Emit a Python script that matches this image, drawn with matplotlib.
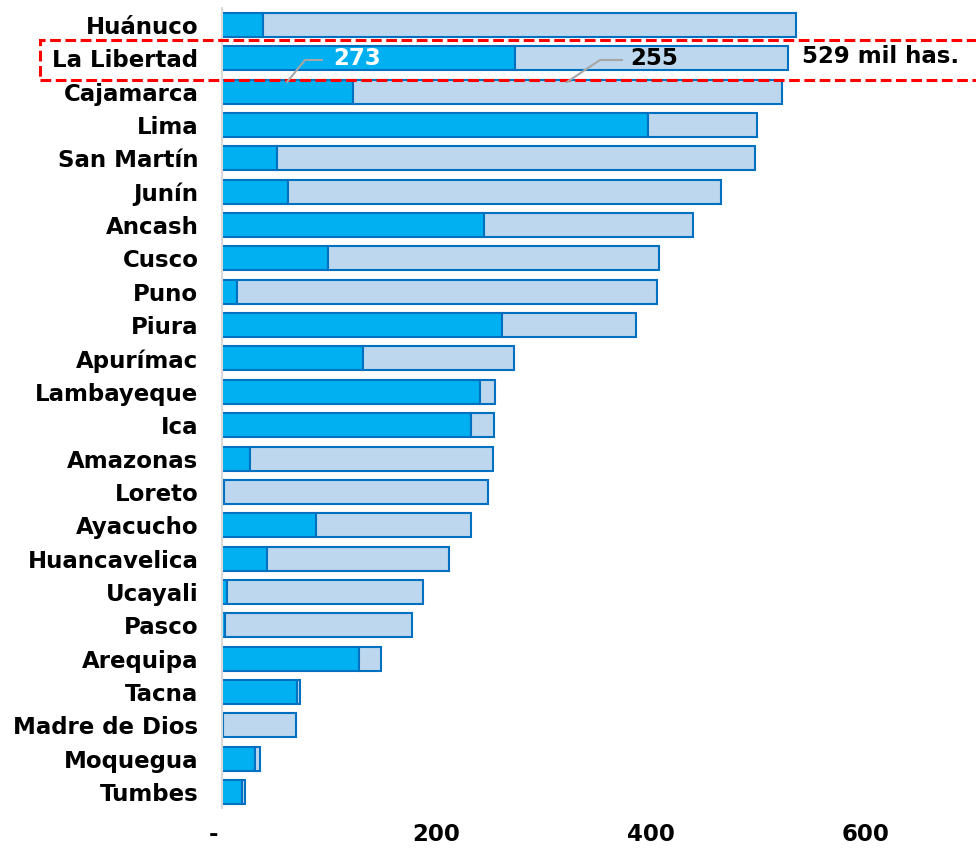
import matplotlib
matplotlib.use("Agg")
import matplotlib.pyplot as plt
from matplotlib.patches import Rectangle
from matplotlib.lines import Line2D

regions = ["Huánuco", "La Libertad", "Cajamarca", "Lima", "San Martín", "Junín",
           "Ancash", "Cusco", "Puno", "Piura", "Apurímac", "Lambayeque", "Ica",
           "Amazonas", "Loreto", "Ayacucho", "Huancavelica", "Ucayali", "Pasco",
           "Arequipa", "Tacna", "Madre de Dios", "Moquegua", "Tumbes"]
serie_a = [38, 273, 122, 397, 51, 62, 244, 99, 14, 261, 131, 241, 232, 26, 2,
           88, 42, 5, 3, 128, 70, 0.5, 31, 19]
serie_b = [497, 255, 400, 102, 446, 403, 195, 308, 392, 125, 141, 14, 22, 227, 246,
           144, 170, 182, 174, 20, 3, 68.5, 4, 2]
xticks = [0, 200, 400, 600]
xticklabels = ["-  ", "200", "400", "600"]

W, H = 976, 848
fig = plt.figure(figsize=(W / 100, H / 100), dpi=100)
ax = fig.add_axes([222 / W, 1 - 808 / H, (W - 222) / W, 800 / H])

ypos = list(range(len(regions)))
dark = "#00B0F0"
light = "#BDD7EE"
edge = "#0070C0"
ax.barh(ypos, serie_a, height=0.72, color=dark, edgecolor=edge, linewidth=1.5)
ax.barh(ypos, serie_b, left=serie_a, height=0.72, color=light, edgecolor=edge, linewidth=1.5)

ax.set_xlim(0, 703)
ax.set_ylim(23.48, -0.51)
ax.set_yticks(ypos)
ax.set_yticklabels(regions, fontsize=16.5, fontweight="bold")
ax.set_xticks(xticks)
ax.set_xticklabels(xticklabels, fontsize=16.5, fontweight="bold")
ax.tick_params(axis="both", length=0)
ax.tick_params(axis="y", pad=17)
ax.tick_params(axis="x", pad=11)
for s in ["top", "right", "bottom"]:
    ax.spines[s].set_visible(False)
ax.spines["left"].set_color("#D9D9D9")
ax.spines["left"].set_linewidth(1.5)

# annotations for La Libertad
i = 1
ax.text(126, i, str(serie_a[i]), color="white", fontsize=16.5,
        fontweight="bold", ha="center", va="center")
ax.text(serie_a[i] + serie_b[i] / 2 + 2, i, str(serie_b[i]), color="black", fontsize=16.5,
        fontweight="bold", ha="center", va="center")
ax.text(serie_a[i] + serie_b[i] + 13, i - 0.05, "529 mil has.", color="black", fontsize=16.5,
        fontweight="bold", ha="left", va="center", clip_on=False)

def px(x, y):
    return (x / W, 1 - y / H)

for pts in ([(287, 82), (305, 60), (322, 60)], [(567, 82), (600, 60), (622, 60)]):
    xs = [p[0] / W for p in pts]
    ys = [1 - p[1] / H for p in pts]
    fig.add_artist(Line2D(xs, ys, color="#A6A6A6", lw=1.5, transform=fig.transFigure))

x0, y0 = px(40, 80)
rect = Rectangle((x0, y0), (W + 10 - 40) / W, 40 / H, transform=fig.transFigure,
                 fill=False, edgecolor="#FF0000", lw=2.2, linestyle=(0, (3.5, 1.5)),
                 clip_on=False)
fig.add_artist(rect)

fig.savefig("out.png", dpi=100)
